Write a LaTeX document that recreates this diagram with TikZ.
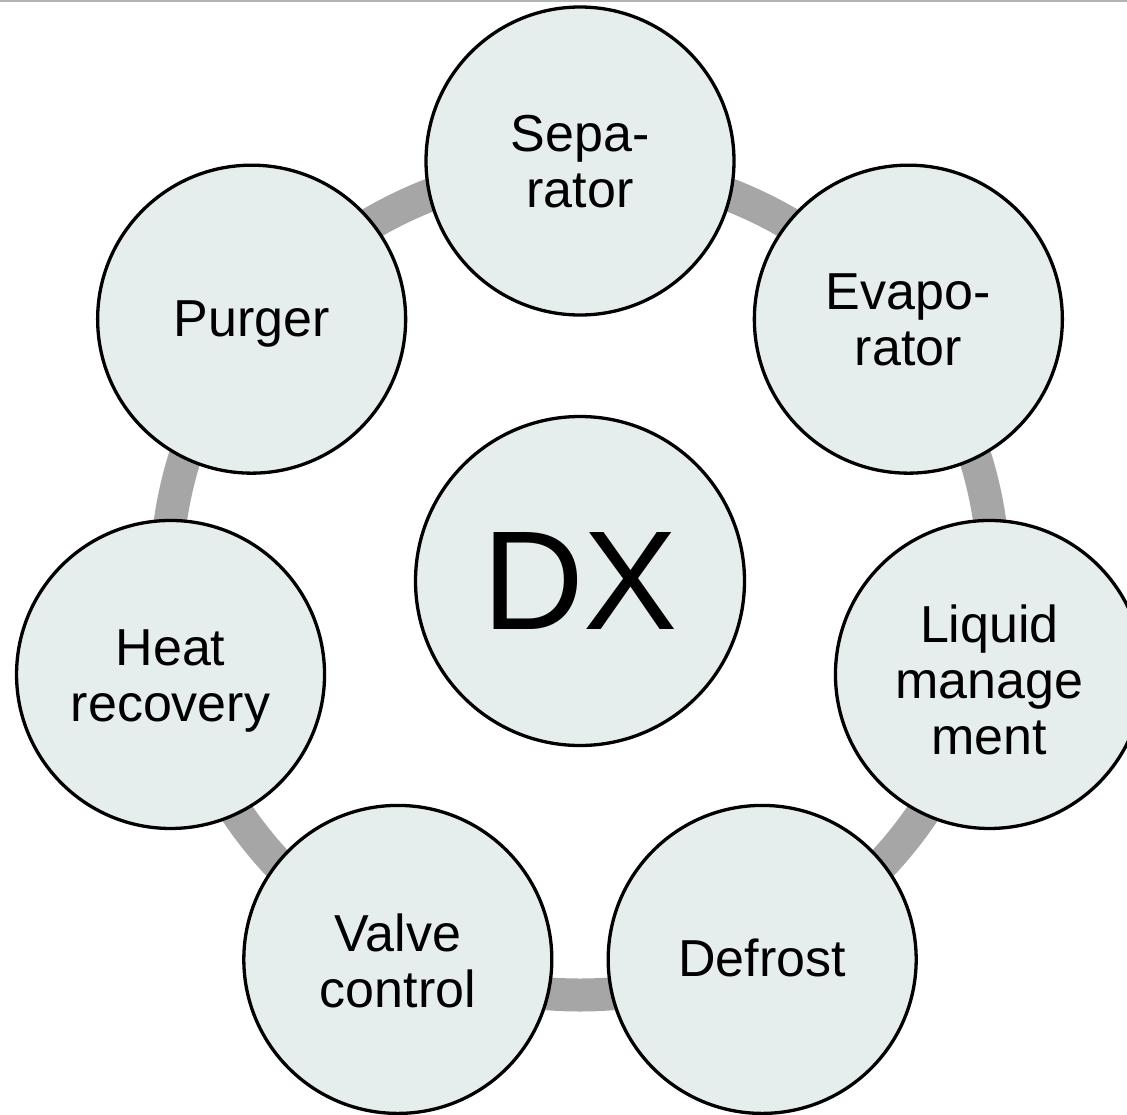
\documentclass[tikz,border=0pt]{standalone}
\usepackage{fontspec}
\usepackage{array}
\setmainfont{Liberation Sans}
\usetikzlibrary{calc}
\definecolor{bubblefill}{RGB}{230,238,237}
\definecolor{ringgray}{RGB}{166,166,166}
\definecolor{rulegray}{RGB}{179,179,179}
% stacked label lines with a fixed line box (45pt above, 11pt below the baseline);
% the optional argument adds room above the first line, lowering the block by half of it
\newcommand\bubbletext[2][0pt]{{\renewcommand\arraystretch{0}%
  \begin{tabular}{@{}>{\rule[-11pt]{0pt}{56pt}}c@{}}%
  \rule{0pt}{\dimexpr45pt+#1\relax}#2\end{tabular}}}
\begin{document}
\begin{tikzpicture}[x=1pt,y=1pt,
  bubble/.style={circle, draw=black, line width=3.3pt, fill=bubblefill,
    minimum size=308pt, inner sep=0pt,
    font=\fontsize{52}{54}\selectfont},
  hub/.style={bubble, minimum size=329pt, font=\fontsize{141}{150}\selectfont},
  ring/.style={draw=ringgray, line width=33pt}]
\useasboundingbox (0,0) rectangle (1127,-1114);
\begin{scope}
  \clip (0,0) rectangle (1127,-1114);
  % thin rule along the top edge
  \fill[rulegray] (0,0) rectangle (1127,-2);
  % centre of the cycle and the ring joining the bubbles
  \coordinate (c) at (580,-581);
  \draw[ring] (c) circle (414);
  % central hub
  \node[hub] (dx) at (c) {DX};
  % seven bubbles around the ring
  \node[bubble] (sep)   at ($(c)+(90:420)$)      {\bubbletext[3pt]{Sepa-\\rator}};
  \node[bubble] (evap)  at ($(c)+(38.57:420)$)   {\bubbletext[3pt]{Evapo-\\rator}};
  \node[bubble] (liq)   at ($(c)+(-12.86:420)$)  {\bubbletext[14pt]{Liquid\\manage\\ment}};
  \node[bubble] (defr)  at ($(c)+(-64.29:420)$)  {\bubbletext{Defrost}};
  \node[bubble] (valve) at ($(c)+(-115.71:420)$) {\bubbletext[6pt]{Valve\\control}};
  \node[bubble] (heat)  at ($(c)+(-167.14:420)$) {\bubbletext[5pt]{Heat\\recovery}};
  \node[bubble] (purge) at ($(c)+(141.43:420)$)  {\bubbletext{Purger}};
\end{scope}
\end{tikzpicture}
\end{document}
